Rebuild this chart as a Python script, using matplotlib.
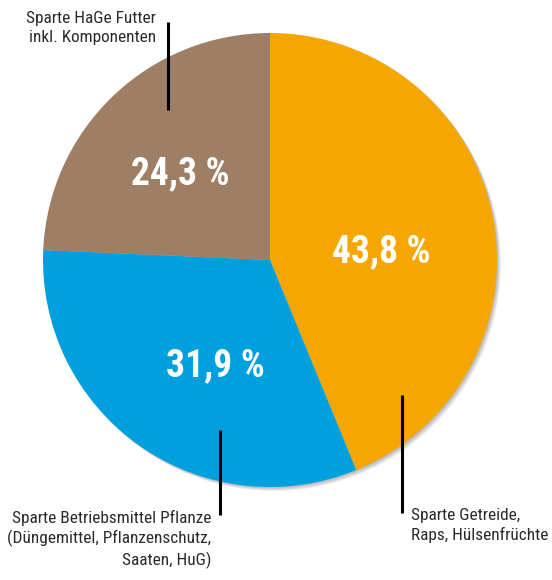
import matplotlib.pyplot as plt
from matplotlib.patches import Circle

# shares of the business segments, clockwise from the top
labels = ["Sparte Getreide,\nRaps, Hülsenfrüchte",
          "Sparte Betriebsmittel Pflanze\n(Düngemittel, Pflanzenschutz,\nSaaten, HuG)",
          "Sparte HaGe Futter\ninkl. Komponenten"]
shares = [43.8, 31.9, 24.3]
colors = ["#F5A600", "#00A0DF", "#9E7E65"]

W, H = 552, 580
font = ["Roboto Condensed", "Liberation Sans Narrow", "DejaVu Sans"]
plt.rcParams['font.family'] = font
plt.rcParams['font.stretch'] = "condensed"

fig = plt.figure(figsize=(W / 100, H / 100), dpi=100)
ax = fig.add_axes([0, 0, 1, 1])

cx, cy, r = 270, H - 260, 227

# soft shadow to the lower right
for i in range(1, 6):
    ax.add_patch(Circle((cx + i * 0.8, cy - i * 0.8), r, color="black", alpha=0.06, lw=0, zorder=0))

wedges, _ = ax.pie(shares, colors=colors, startangle=90, counterclock=False,
                   center=(cx, cy), radius=r, frame=True,
                   wedgeprops=dict(linewidth=0))
for w in wedges:
    w.set_zorder(1)
ax.set_xlim(0, W)
ax.set_ylim(0, H)
ax.set_aspect("equal")
ax.axis("off")

# value labels inside the slices
value_pos = [(381, 252), (215, 366), (180, 174)]
for v, (x, y) in zip(shares, value_pos):
    ax.text(x, H - y, f"{v:.1f} %".replace(".", ","), color="white", fontsize=27,
            fontweight="bold", ha="center", va="center", zorder=3)

# leader lines and segment names
lines = [(402, 395, 513), (220, 430, 515), (168, 22, 110)]
for x, y0, y1 in lines:
    ax.plot([x, x], [H - y0, H - y1], color="black", lw=2.2, solid_capstyle="butt", zorder=4)

text_pos = [(411, 508, "left"), (211, 510, "right"), (156, 11, "right")]
for lab, (x, y, ha) in zip(labels, text_pos):
    ax.text(x, H - y, lab, fontsize=12.4, color="#2a2a2a", ha=ha, va="top",
            multialignment=ha, linespacing=1.3, zorder=4)

fig.savefig("out.png", dpi=100)
